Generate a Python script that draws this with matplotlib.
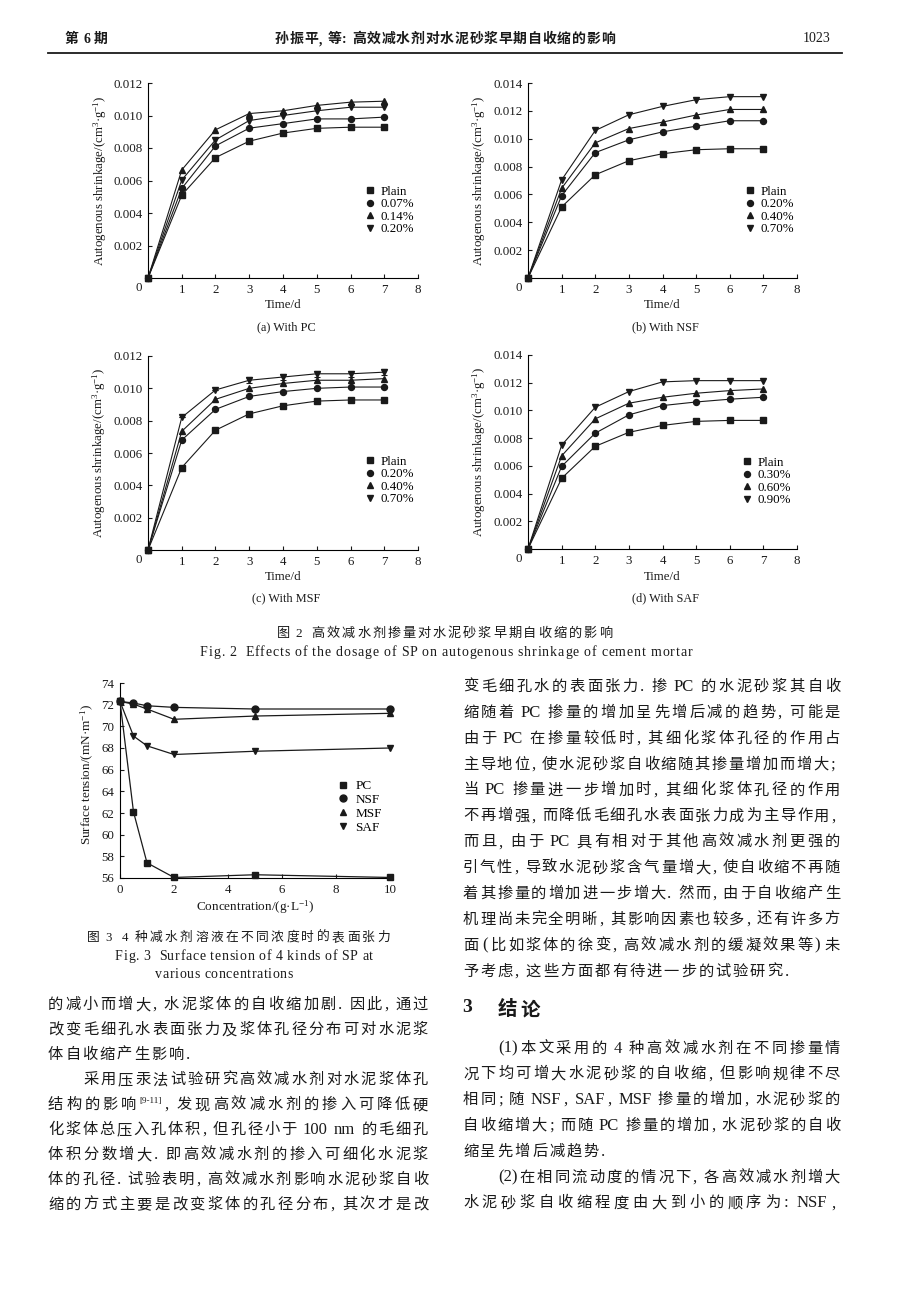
import numpy as np
import matplotlib.pyplot as plt
from matplotlib.lines import Line2D
from matplotlib.ticker import FormatStrFormatter

plt.rcParams['font.family'] = ['Liberation Serif', 'Noto Sans CJK SC', 'DejaVu Sans']
plt.rcParams['mathtext.fontset'] = 'custom'
plt.rcParams['mathtext.rm'] = 'Liberation Serif'
plt.rcParams['mathtext.it'] = 'Liberation Serif:italic'
plt.rcParams['axes.linewidth'] = 0.8

W, H = 920, 1297
INK = '#1a1a1a'
CJK = 'Noto Sans CJK SC'
LAT = 'Liberation Serif'
MARKERS = ['s', 'o', '^', 'v']
PUNCT = {'，': ',', '．': '.', '；': ';', '：': ':', '（': '(', '）': ')'}

# ---- Fig.2 autogenous shrinkage, cm3/g ----
days = [0, 1, 2, 3, 4, 5, 6, 7]
plain = [0, 0.00510, 0.00741, 0.00842, 0.00892, 0.00921, 0.00928, 0.00928]

pc_labels = ['Plain', '0.07%', '0.14%', '0.20%']
pc_007 = [0, 0.00551, 0.00813, 0.00922, 0.00950, 0.00979, 0.00979, 0.00990]
pc_014 = [0, 0.00665, 0.00912, 0.01012, 0.01029, 0.01062, 0.01082, 0.01088]
pc_020 = [0, 0.00603, 0.00850, 0.00969, 0.01000, 0.01029, 0.01051, 0.01051]

nsf_labels = ['Plain', '0.20%', '0.40%', '0.70%']
nsf_020 = [0, 0.00591, 0.00900, 0.00992, 0.01049, 0.01090, 0.01129, 0.01129]
nsf_040 = [0, 0.00644, 0.00970, 0.01073, 0.01119, 0.01170, 0.01210, 0.01210]
nsf_070 = [0, 0.00704, 0.01059, 0.01172, 0.01232, 0.01280, 0.01302, 0.01302]

msf_labels = ['Plain', '0.20%', '0.40%', '0.70%']
msf_020 = [0, 0.00680, 0.00870, 0.00950, 0.00980, 0.01000, 0.01008, 0.01008]
msf_040 = [0, 0.00734, 0.00932, 0.01000, 0.01030, 0.01050, 0.01050, 0.01060]
msf_070 = [0, 0.00820, 0.00990, 0.01050, 0.01070, 0.01090, 0.01090, 0.01100]
msf_070_err = [0, 0, 0, 0.0002, 0.0002, 0.0002, 0.0002, 0.0002]

saf_labels = ['Plain', '0.30%', '0.60%', '0.90%']
saf_030 = [0, 0.00596, 0.00836, 0.00968, 0.01035, 0.01061, 0.01081, 0.01095]
saf_060 = [0, 0.00672, 0.00939, 0.01052, 0.01095, 0.01124, 0.01143, 0.01155]
saf_090 = [0, 0.00749, 0.01023, 0.01136, 0.01206, 0.01215, 0.01215, 0.01215]

# ---- Fig.3 surface tension, mN/m ----
conc = [0, 0.5, 1, 2, 5, 10]
st_labels = ['PC', 'NSF', 'MSF', 'SAF']
st_pc = [72.3, 62.1, 57.4, 56.05, 56.3, 56.05]
st_nsf = [72.3, 72.15, 71.9, 71.75, 71.6, 71.6]
st_msf = [72.3, 72.05, 71.6, 70.65, 70.95, 71.2]
st_saf = [72.3, 69.1, 68.2, 67.4, 67.7, 68.0]

fig = plt.figure(figsize=(W / 100, H / 100), dpi=100)
fig.patch.set_facecolor('white')
renderer = fig.canvas.get_renderer()


def px_axes(l, t, r, b):
    return fig.add_axes([l / W, 1 - b / H, (r - l) / W, (b - t) / H])


def split_tokens(s, chars=False):
    toks = []
    buf = ''
    sp = 0
    i = 0
    while i < len(s):
        ch = s[i]
        if ch == '{':
            j = s.index('}', i)
            if buf:
                toks.append([buf, 'lat', sp]); buf = ''; sp = 0
            toks.append([s[i + 1:j], 'sup', sp]); sp = 0
            i = j + 1
            continue
        if ch == ' ':
            if buf:
                toks.append([buf, 'lat', sp]); buf = ''; sp = 0
            sp += 1
        elif ord(ch) < 128:
            if chars:
                toks.append([ch, 'lat', sp]); sp = 0
            else:
                buf += ch
        else:
            if buf:
                toks.append([buf, 'lat', sp]); buf = ''; sp = 0
            if ch in PUNCT:
                toks.append([PUNCT[ch], 'punct', sp]); sp = 0
            else:
                toks.append([ch, 'cjk', sp]); sp = 0
        i += 1
    if buf:
        toks.append([buf, 'lat', sp])
    return toks


def text_line(s, x0, yc, x1=None, size=11, weight='normal', gap=2.0, lat_size=None, chars=False):
    # lays out one printed line token by token, justified to x1 if given
    em = size * 100 / 72
    baseline = yc + 0.38 * em
    items = []
    for t, kind, sp in split_tokens(s, chars):
        pre = sp * 0.28 * em
        if kind == 'cjk':
            a = fig.text(0, 0, t, fontsize=size, family=[CJK, 'DejaVu Sans'],
                         weight=weight, color=INK, va='baseline')
        elif kind == 'sup':
            a = fig.text(0, 0, t, fontsize=size * 0.6, family=[LAT, 'DejaVu Sans'],
                         color=INK, va='baseline')
        else:
            a = fig.text(0, 0, t, fontsize=lat_size or size, family=[LAT, 'DejaVu Sans'],
                         weight=weight, color=INK, va='baseline')
        w = a.get_window_extent(renderer).width
        if kind == 'punct':
            if t in ',.;:':
                w += 0.32 * em
            elif t == '(':
                pre += 0.15 * em
            else:
                w += 0.15 * em
        items.append((a, w, pre, kind))
    natural = sum(it[1] + it[2] for it in items)
    if x1 is not None and len(items) > 1:
        gap = (x1 - x0 - natural) / (len(items) - 1)
    x = x0
    for a, w, pre, kind in items:
        x += pre
        yb = baseline - (0.42 * em if kind == 'sup' else 0)
        a.set_position((x / W, 1 - yb / H))
        x += w + gap


def shrink_panel(box, ymax, series, labels, cap, leg_xy, ylab_x, err=None):
    ax = px_axes(*box)
    for k, (ys, m) in enumerate(zip(series, MARKERS)):
        ax.plot(days, ys, color=INK, lw=0.8, marker=m, ms=4.3, mfc=INK, mec=INK,
                clip_on=False, zorder=3)
        if err is not None and k == 3:
            ax.errorbar(days, ys, yerr=err, fmt='none', ecolor=INK, elinewidth=0.8,
                        capsize=2.2, capthick=0.8, zorder=3)
    ax.set_xlim(0, 8)
    ax.set_ylim(0, ymax)
    ax.set_xticks(range(1, 9))
    ax.set_yticks(np.arange(0.002, ymax + 1e-9, 0.002))
    ax.yaxis.set_major_formatter(FormatStrFormatter('%.3f'))
    ax.tick_params(direction='in', length=3, width=0.8, labelsize=9.3, pad=4, colors=INK)
    for s in ['top', 'right']:
        ax.spines[s].set_visible(False)
    ax.annotate('0', (0, 0), xycoords='axes fraction', xytext=(-6.5, -2.9),
                textcoords='offset points', ha='center', va='top', fontsize=9.3, color=INK)
    ax.set_xlabel('Time/d', fontsize=9.3, va='center', color=INK)
    lab_y = 305 if box[3] < 300 else 577
    ax.xaxis.set_label_coords(0.5, -(lab_y - box[3]) / (box[3] - box[1]))
    ax.set_ylabel(r'Autogenous shrinkage/(cm$^{3}$·g$^{-1}$)', fontsize=9.3, va='center', color=INK)
    ax.yaxis.set_label_coords(ylab_x, 0.5)
    handles = [Line2D([], [], ls='none', marker=m, ms=4.3, color=INK) for m in MARKERS]
    ax.legend(handles, labels, loc='upper left', bbox_to_anchor=(leg_xy[0] / W, 1 - leg_xy[1] / H),
              bbox_transform=fig.transFigure, frameon=False, borderpad=0, borderaxespad=0,
              handlelength=0.8, handletextpad=0.4, labelspacing=0.04, fontsize=9.3)
    cx = (box[0] + box[2]) / 2 + 3
    cy = 327 if box[3] < 300 else 598
    fig.text(cx / W, 1 - cy / H, cap, fontsize=8.8, ha='center', va='center', color=INK)
    return ax


# header
text_line('第 6 期', 65, 38, 108, size=10, weight='bold', lat_size=10)
text_line('孙振平，等：高效减水剂对水泥砂浆早期自收缩的影响', 275, 38, 615, size=10, weight='bold')
fig.text(830 / W, 1 - 38 / H, '1023', fontsize=10, ha='right', va='center', color=INK)
fig.add_artist(Line2D([48 / W, 842 / W], [1 - 53 / H, 1 - 53 / H], color=INK, lw=1.3))

# Fig.2 panels
shrink_panel((148, 83, 418, 278), 0.012, [plain, pc_007, pc_014, pc_020], pc_labels,
             '(a) With PC', (365, 185.5), -0.178)
shrink_panel((528, 83, 797, 278), 0.014, [plain, nsf_020, nsf_040, nsf_070], nsf_labels,
             '(b) With NSF', (745, 185.5), -0.182)
shrink_panel((148, 356, 418, 550), 0.012, [plain, msf_020, msf_040, msf_070], msf_labels,
             '(c) With MSF', (365, 455.5), -0.182, err=msf_070_err)
shrink_panel((528, 355, 797, 549), 0.014, [plain, saf_030, saf_060, saf_090], saf_labels,
             '(d) With SAF', (742, 456.5), -0.182)

text_line('图 2  高效减水剂掺量对水泥砂浆早期自收缩的影响', 277, 632, 612, size=9.5)
text_line('Fig. 2  Effects of the dosage of SP on autogenous shrinkage of cement mortar',
          200, 651, 692, size=10, chars=True)

# Fig.3
ax3 = px_axes(120, 683, 390, 878)
for ys, m in zip([st_pc, st_nsf, st_msf, st_saf], MARKERS):
    ax3.plot(conc, ys, color=INK, lw=0.9, marker=m, ms=5, mfc=INK, mec=INK, clip_on=False, zorder=3)
ax3.set_xlim(0, 10)
ax3.set_ylim(56, 74)
ax3.set_xticks(range(0, 11, 2))
ax3.set_yticks(range(56, 75, 2))
ax3.tick_params(direction='in', length=3, width=0.8, labelsize=9.3, pad=4, colors=INK)
for s in ['top', 'right']:
    ax3.spines[s].set_visible(False)
ax3.set_xlabel(r'Concentration/(g·L$^{-1}$)', fontsize=9.5, va='center', color=INK)
ax3.xaxis.set_label_coords(0.5, -0.149)
ax3.set_ylabel(r'Surface tension/(mN·m$^{-1}$)', fontsize=9.5, va='center', color=INK)
ax3.yaxis.set_label_coords(-0.122, 0.533)
h3 = [Line2D([], [], ls='none', marker=m, ms=5, color=INK) for m in MARKERS]
ax3.legend(h3, st_labels, loc='upper left', bbox_to_anchor=(338 / W, 1 - 780 / H),
           bbox_transform=fig.transFigure, frameon=False, borderpad=0, borderaxespad=0,
           handlelength=0.8, handletextpad=0.5, labelspacing=0.12, fontsize=9.5)

text_line('图 3  4 种减水剂溶液在不同浓度时的表面张力', 87, 936, 390, size=9.2)
text_line('Fig. 3  Surface tension of 4 kinds of SP at', 115, 955, 373, size=10, chars=True)
text_line('various concentrations', 155, 973, 293, size=10, chars=True)

# body text, right column upper
right_top = [
    '变毛细孔水的表面张力．掺 PC 的水泥砂浆其自收',
    '缩随着 PC 掺量的增加呈先增后减的趋势，可能是',
    '由于 PC 在掺量较低时，其细化浆体孔径的作用占',
    '主导地位，使水泥砂浆自收缩随其掺量增加而增大；',
    '当 PC 掺量进一步增加时，其细化浆体孔径的作用',
    '不再增强，而降低毛细孔水表面张力成为主导作用，',
    '而且，由于 PC 具有相对于其他高效减水剂更强的',
    '引气性，导致水泥砂浆含气量增大，使自收缩不再随',
    '着其掺量的增加进一步增大．然而，由于自收缩产生',
    '机理尚未完全明晰，其影响因素也较多，还有许多方',
    '面（比如浆体的徐变，高效减水剂的缓凝效果等）未',
    '予考虑，这些方面都有待进一步的试验研究．',
]
y = 685.0
for k, s in enumerate(right_top):
    text_line(s, 463, y, None if k == len(right_top) - 1 else 840, size=11, lat_size=12)
    y += 25.9

left_col = [
    ('的减小而增大，水泥浆体的自收缩加剧．因此，通过', 48, True),
    ('改变毛细孔水表面张力及浆体孔径分布可对水泥浆', 48, True),
    ('体自收缩产生影响．', 48, False),
    ('采用压汞法试验研究高效减水剂对水泥浆体孔', 83, True),
    ('结构的影响{[9-11]}，发现高效减水剂的掺入可降低硬', 48, True),
    ('化浆体总压入孔体积，但孔径小于 100 nm 的毛细孔', 48, True),
    ('体积分数增大．即高效减水剂的掺入可细化水泥浆', 48, True),
    ('体的孔径．试验表明，高效减水剂影响水泥砂浆自收', 48, True),
    ('缩的方式主要是改变浆体的孔径分布，其次才是改', 48, True),
]
y = 1003.3
for s, x0, just in left_col:
    text_line(s, x0, y, 428 if just else None, size=11, lat_size=12)
    y += 25.0

# section 3
fig.text(467 / W, 1 - 1008 / H, '3', fontsize=14, weight='bold', ha='center', va='center', color=INK)
text_line('结论', 498, 1008, 540, size=14, weight='bold')

right_bot = [
    ('(1)本文采用的 4 种高效减水剂在不同掺量情', 498, True),
    ('况下均可增大水泥砂浆的自收缩，但影响规律不尽', 463, True),
    ('相同；随 NSF，SAF，MSF 掺量的增加，水泥砂浆的', 463, True),
    ('自收缩增大；而随 PC 掺量的增加，水泥砂浆的自收', 463, True),
    ('缩呈先增后减趋势．', 463, False),
    ('(2)在相同流动度的情况下，各高效减水剂增大', 498, True),
    ('水泥砂浆自收缩程度由大到小的顺序为：NSF，', 463, True),
]
y = 1046.7
for s, x0, just in right_bot:
    text_line(s, x0, y, 840 if just else None, size=11, lat_size=12)
    y += 25.8

fig.savefig('out.png', dpi=100, facecolor='white')
